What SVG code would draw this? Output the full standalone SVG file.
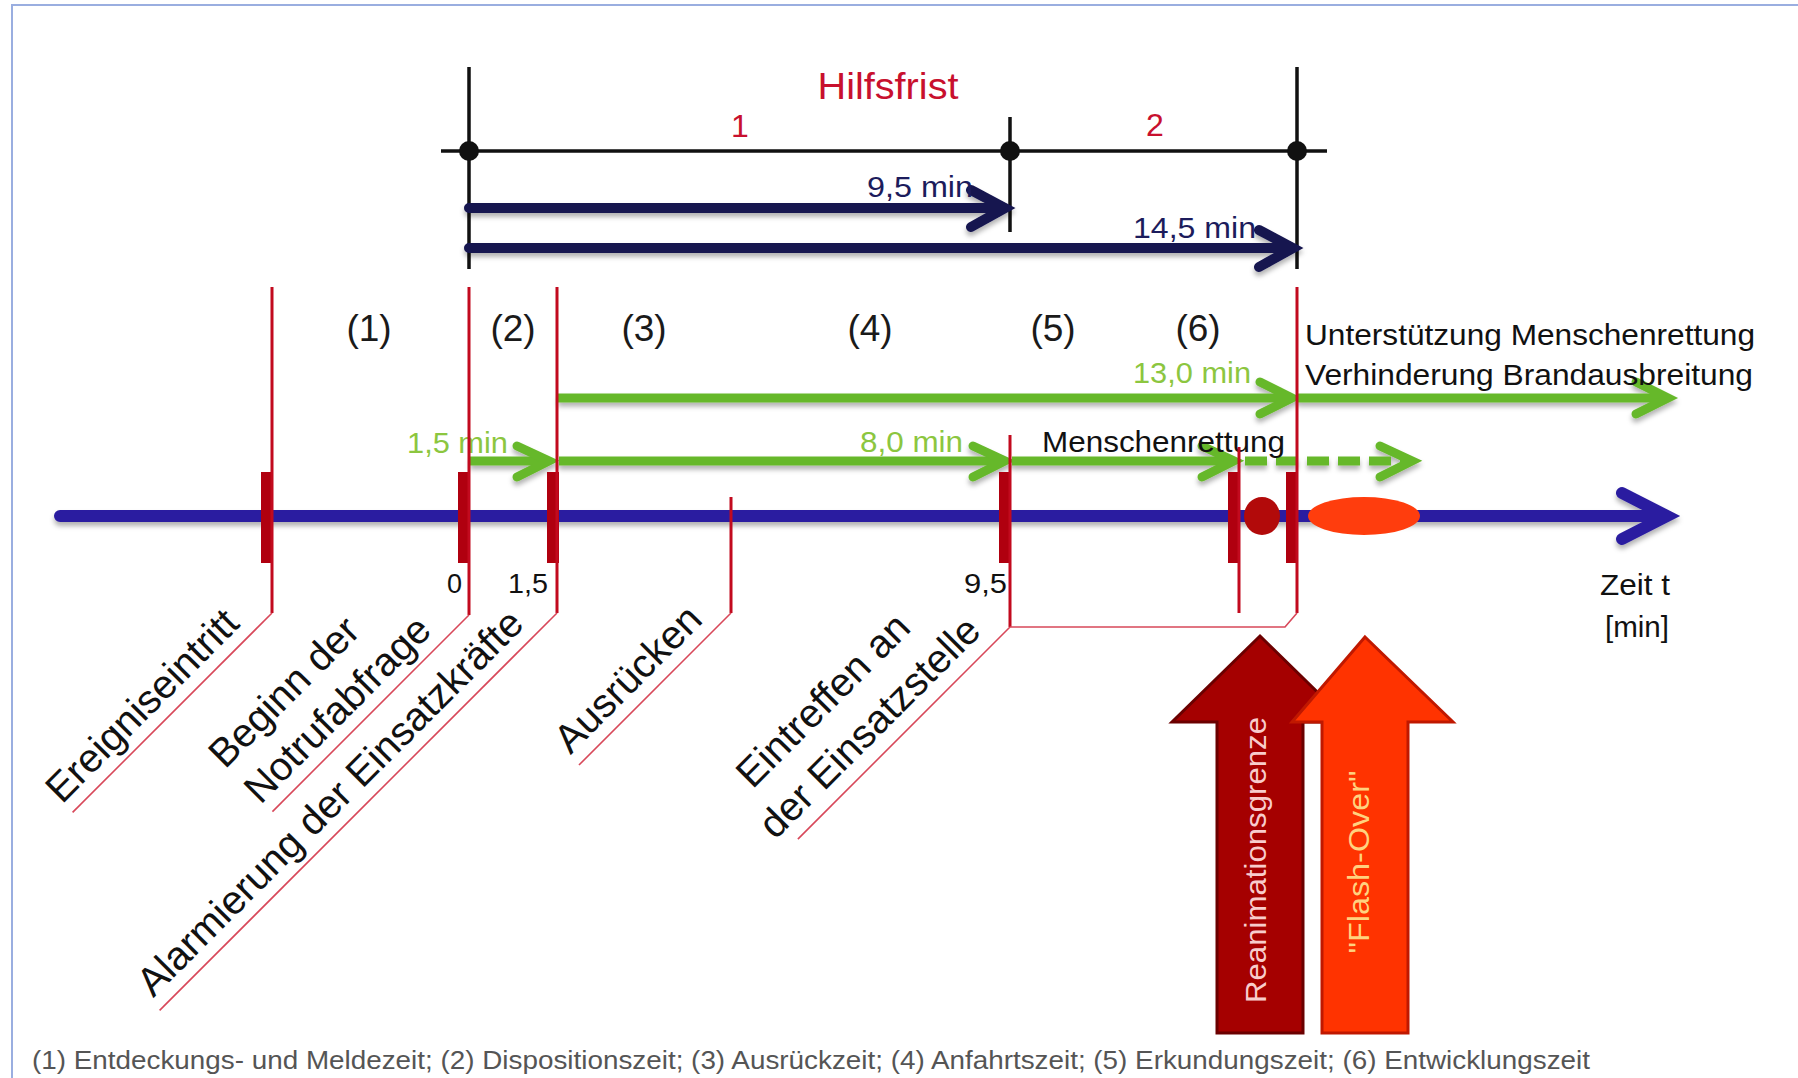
<svg xmlns="http://www.w3.org/2000/svg" width="1798" height="1078" viewBox="0 0 1798 1078">
<defs>
<filter id="sh" x="-5%" y="-50%" width="110%" height="250%">
<feDropShadow dx="0" dy="4" stdDeviation="2.5" flood-color="#000" flood-opacity="0.3"/>
</filter>
<style>
text{font-family:"Liberation Sans",Arial,sans-serif}
.blk{fill:none;stroke:#111;stroke-width:3.5}
.navy{fill:none;stroke:#14144f;stroke-width:10;stroke-linecap:round;stroke-linejoin:miter}
.grn{fill:none;stroke:#66b82b;stroke-width:9;stroke-linecap:butt;stroke-linejoin:miter}
.grnh{fill:none;stroke:#66b82b;stroke-width:9;stroke-linecap:round;stroke-linejoin:miter}
.axis{fill:none;stroke:#2c1fa0;stroke-width:12;stroke-linecap:round}
.rl{fill:none;stroke:#c20a1e;stroke-width:3}
.dl{fill:none;stroke:#d8485a;stroke-width:1.6}
.bar{fill:#b0000f}
.lab{font-size:40px;fill:#111}
.par{font-size:37px;fill:#1a1a1a}
.red{fill:#c8102e}
.gt{fill:#8cc63f;font-size:29px}
.bt{fill:#111;font-size:29px}
</style>
</defs>
<rect x="0" y="0" width="1798" height="1078" fill="#fff"/>
<path d="M12,1078 V5 H1798" fill="none" stroke="#9aaee0" stroke-width="2"/>

<g id="hilfsfrist">
<text x="888" y="99" text-anchor="middle" class="red" font-size="36" textLength="141" lengthAdjust="spacingAndGlyphs">Hilfsfrist</text>
<text x="740" y="137" text-anchor="middle" class="red" font-size="32">1</text>
<text x="1155" y="136" text-anchor="middle" class="red" font-size="32">2</text>
<path class="blk" d="M441,151 H1327 M469,67 V269 M1010,117 V232 M1297,67 V269"/>
<circle cx="469" cy="151" r="10" fill="#111"/>
<circle cx="1010" cy="151" r="10" fill="#111"/>
<circle cx="1297" cy="151" r="10" fill="#111"/>
</g>

<g id="connectors">
<g filter="url(#sh)">
<path class="navy" d="M469,208 H1000 M971,190 L1005,208 L971,227"/>
<path class="navy" d="M469,248 H1286 M1259,230 L1293,248 L1259,267"/>
</g>
<g filter="url(#sh)">
<path class="grn" d="M558,398 H1286"/><path class="grnh" d="M1260,382 L1292,398 L1260,414"/>
<path class="grn" d="M1298,398 H1662"/><path class="grnh" d="M1636,382 L1668,398 L1636,414"/>
<path class="grn" d="M470,461 H544"/><path class="grnh" d="M517,446 L549,461 L517,477"/>
<path class="grn" d="M559,461 H1000"/><path class="grnh" d="M973,446 L1005,461 L973,477"/>
<path class="grn" d="M1012,461 H1229"/><path class="grnh" d="M1202,446 L1234,461 L1202,477"/>
<path class="grn" d="M1245,461 H1405" stroke-dasharray="22 9"/><path class="grnh" d="M1380,446 L1412,461 L1380,477"/>
</g>
<g filter="url(#sh)">
<path class="axis" d="M60,516 H1662 M1622,493 L1667,516 L1622,539"/>
</g>
</g>

<g id="time-labels">
<text x="867" y="197" fill="#1c1c5c" font-size="29" textLength="106" lengthAdjust="spacingAndGlyphs">9,5 min</text>
<text x="1133" y="238" fill="#1c1c5c" font-size="29" textLength="123" lengthAdjust="spacingAndGlyphs">14,5 min</text>
<text x="1133" y="383" class="gt" textLength="118" lengthAdjust="spacingAndGlyphs">13,0 min</text>
<text x="407" y="453" class="gt" textLength="101" lengthAdjust="spacingAndGlyphs">1,5 min</text>
<text x="860" y="452" class="gt" textLength="103" lengthAdjust="spacingAndGlyphs">8,0 min</text>
<text x="1042" y="452" class="bt" textLength="243" lengthAdjust="spacingAndGlyphs">Menschenrettung</text>
<text x="1305" y="345" class="bt" textLength="450" lengthAdjust="spacingAndGlyphs">Unterstützung Menschenrettung</text>
<text x="1305" y="385" class="bt" textLength="448" lengthAdjust="spacingAndGlyphs">Verhinderung Brandausbreitung</text>
</g>

<g id="phases">
<text x="369" y="341" text-anchor="middle" class="par">(1)</text>
<text x="513" y="341" text-anchor="middle" class="par">(2)</text>
<text x="644" y="341" text-anchor="middle" class="par">(3)</text>
<text x="870" y="341" text-anchor="middle" class="par">(4)</text>
<text x="1053" y="341" text-anchor="middle" class="par">(5)</text>
<text x="1198" y="341" text-anchor="middle" class="par">(6)</text>
</g>

<g id="markers">
<rect class="bar" x="261" y="472" width="12" height="91"/>
<rect class="bar" x="458" y="472" width="12" height="91"/>
<rect class="bar" x="547" y="472" width="12" height="91"/>
<rect class="bar" x="999" y="472" width="12" height="91"/>
<rect class="bar" x="1228" y="472" width="12" height="91"/>
<rect class="bar" x="1286" y="472" width="12" height="91"/>
<path class="rl" d="M272,287 V613 M469,287 V615 M557,287 V613 M731,497 V613 M1010,435 V627 M1239,447 V613 M1297,287 V613"/>
<path class="dl" d="M1010,627 H1285 L1297,613"/>
<ellipse cx="1262" cy="516" rx="18" ry="19" fill="#b20a0a"/>
<ellipse cx="1364" cy="516" rx="56" ry="19" fill="#ff3d0d"/>
</g>

<g id="scale">
<text x="462" y="593" text-anchor="end" font-size="27" fill="#111">0</text>
<text x="548" y="593" text-anchor="end" font-size="27" fill="#111" textLength="40" lengthAdjust="spacingAndGlyphs">1,5</text>
<text x="1007" y="593" text-anchor="end" font-size="27" fill="#111" textLength="43" lengthAdjust="spacingAndGlyphs">9,5</text>
<text x="1635" y="595" text-anchor="middle" font-size="29" fill="#111" textLength="70" lengthAdjust="spacingAndGlyphs">Zeit t</text>
<text x="1637" y="637" text-anchor="middle" font-size="29" fill="#111" textLength="64" lengthAdjust="spacingAndGlyphs">[min]</text>
</g>

<g id="label-ereigniseintritt" transform="translate(272,613) rotate(-45)">
<path class="dl" d="M0,0 H-282"/>
<text class="lab" x="-284" y="-13">Ereigniseintritt</text>
</g>
<g id="label-notrufabfrage" transform="translate(469,615) rotate(-45)">
<path class="dl" d="M0,0 H-278"/>
<text class="lab" x="-282" y="-63">Beginn der</text>
<text class="lab" x="-282" y="-13">Notrufabfrage</text>
</g>
<g id="label-alarmierung" transform="translate(557,613) rotate(-45)">
<path class="dl" d="M0,0 H-562"/>
<text class="lab" x="-558" y="-13">Alarmierung der Einsatzkräfte</text>
</g>
<g id="label-ausruecken" transform="translate(731,613) rotate(-45)">
<path class="dl" d="M0,0 H-215"/>
<text class="lab" x="-214" y="-13">Ausrücken</text>
</g>
<g id="label-eintreffen" transform="translate(1010,627) rotate(-45)">
<path class="dl" d="M0,0 H-300"/>
<text class="lab" x="-297" y="-67">Eintreffen an</text>
<text class="lab" x="-317" y="-15">der Einsatzstelle</text>
</g>

<g id="reanimationsgrenze">
<polygon points="1260,636 1348,722 1303,722 1303,1033 1217,1033 1217,722 1172,722" fill="#a50000" stroke="#6b0000" stroke-width="3" stroke-linejoin="miter"/>
<text transform="translate(1266,860) rotate(-90)" text-anchor="middle" font-size="30" fill="#f8cccc" textLength="286" lengthAdjust="spacingAndGlyphs">Reanimationsgrenze</text>
</g>
<g id="flashover">
<polygon points="1365,637 1453,722 1408,722 1408,1033 1322,1033 1322,722 1292,722" fill="#ff3300" stroke="#c01800" stroke-width="3" stroke-linejoin="miter"/>
<text transform="translate(1369,862) rotate(-90)" text-anchor="middle" font-size="30" fill="#ffd27f" textLength="183" lengthAdjust="spacingAndGlyphs">"Flash-Over"</text>
</g>

<g id="legend">
<text x="32" y="1069" font-size="26" fill="#555" textLength="1558" lengthAdjust="spacingAndGlyphs">(1) Entdeckungs- und Meldezeit; (2) Dispositionszeit; (3) Ausrückzeit; (4) Anfahrtszeit; (5) Erkundungszeit; (6) Entwicklungszeit</text>
</g>
</svg>
